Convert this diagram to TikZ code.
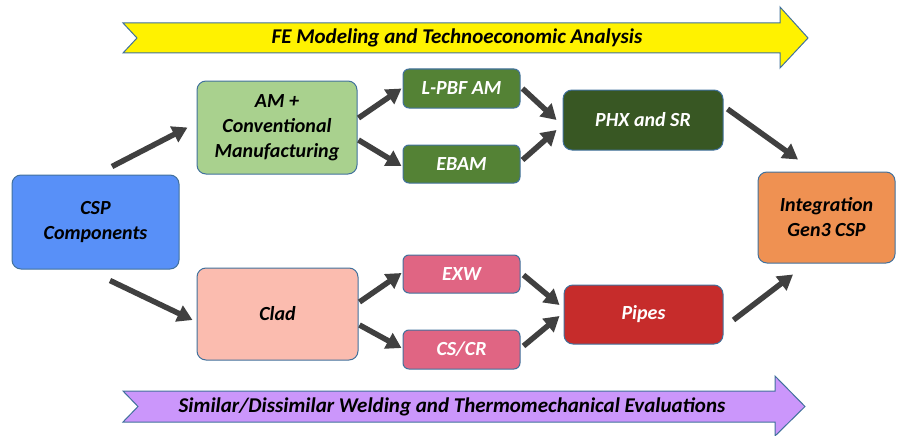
\documentclass[tikz,border=0pt]{standalone}
\usepackage{fontspec}
\setmainfont{Carlito}
\usetikzlibrary{arrows.meta}
\definecolor{edgeblue}{HTML}{41719C}
\definecolor{arrowgray}{HTML}{404040}
\definecolor{cspblue}{HTML}{5890F8}
\definecolor{amgreen}{HTML}{A9D18E}
\definecolor{procgreen}{HTML}{548235}
\definecolor{phxgreen}{HTML}{385723}
\definecolor{cladpink}{HTML}{FBBCAF}
\definecolor{weldpink}{HTML}{E06583}
\definecolor{pipered}{HTML}{C62C2B}
\definecolor{integorange}{HTML}{EF9152}
\definecolor{bannerpurple}{HTML}{CB96FB}
\begin{document}
\begin{tikzpicture}[x=1pt,y=-1pt,
  box/.style={draw=edgeblue, line width=1pt, rounded corners=9pt, align=center,
    font=\fontsize{20}{25}\selectfont\bfseries\itshape, inner sep=0pt},
  darkbox/.style={box, text=white},
  flow/.style={draw=arrowgray, line width=5.5pt, -{Triangle[length=15pt,width=17pt]}},
  banner/.style={draw=edgeblue, line width=1pt}]
\useasboundingbox (0,0) rectangle (907,436);
% banners
\draw[banner, fill=yellow] (123,23) -- (780,23) -- (780,7) -- (808,38) -- (780,68) -- (780,53) -- (123,53) -- (137,38) -- cycle;
\node[font=\fontsize{21}{25}\selectfont\bfseries\itshape] (fe) at (457,38) {FE Modeling and Technoeconomic Analysis};
\draw[banner, fill=bannerpurple] (123,391) -- (775,391) -- (775,376) -- (805,406.5) -- (775,436) -- (775,422) -- (123,422) -- (138,406.5) -- cycle;
\node[font=\fontsize{21}{25}\selectfont\bfseries\itshape] (weld) at (452,407) {Similar/Dissimilar Welding and Thermomechanical Evaluations};
% boxes
\node[box, fill=cspblue, minimum width=167pt, minimum height=94pt] (csp) at (95.5,222) {CSP\\Components};
\node[box, fill=amgreen, minimum width=160pt, minimum height=93pt] (am) at (277,127.5) {AM +\\Conventional\\Manufacturing};
\node[darkbox, fill=procgreen, rounded corners=6pt, minimum width=117pt, minimum height=39pt] (lpbf) at (461.5,88.5) {L-PBF AM};
\node[darkbox, fill=procgreen, rounded corners=6pt, minimum width=117pt, minimum height=38pt] (ebam) at (461.5,164) {EBAM};
\node[darkbox, fill=phxgreen, minimum width=160pt, minimum height=60pt] (phx) at (643,120) {PHX and SR};
\node[box, fill=integorange, minimum width=137pt, minimum height=91pt] (integ) at (826.5,217.5) {Integration\\Gen3 CSP};
\node[box, fill=cladpink, minimum width=161pt, minimum height=92pt] (clad) at (277.5,314) {Clad};
\node[darkbox, fill=weldpink, rounded corners=6pt, minimum width=117pt, minimum height=38pt] (exw) at (461.5,274) {EXW};
\node[darkbox, fill=weldpink, rounded corners=6pt, minimum width=117pt, minimum height=39pt] (cscr) at (461.5,349.5) {CS/CR};
\node[darkbox, fill=pipered, minimum width=159pt, minimum height=59pt] (pipes) at (643.5,314.5) {Pipes};
% arrows
\draw[flow] ([xshift=16.5pt,yshift=8pt]csp.north) -- ([xshift=-9pt]am.west);
\draw[flow] ([xshift=14.5pt,yshift=-11pt]csp.south) -- ([xshift=-4pt,yshift=-6pt]clad.west);
\draw[flow] ([xshift=1pt,yshift=9.5pt]am.east) -- ([xshift=-1pt]lpbf.west);
\draw[flow] ([xshift=1pt,yshift=-12.5pt]am.east) -- ([xshift=-1pt,yshift=-2pt]ebam.west);
\draw[flow] ([xshift=2pt]lpbf.east) -- ([xshift=-6pt]phx.west);
\draw[flow] ([xshift=2pt,yshift=4pt]ebam.east) -- ([xshift=-6pt,yshift=-10pt]phx.west);
\draw[flow] ([xshift=4pt,yshift=11pt]phx.east) -- ([xshift=-28.5pt,yshift=12pt]integ.north);
\draw[flow] ([xshift=1pt,yshift=12pt]clad.east) -- ([xshift=-1pt,yshift=1pt]exw.west);
\draw[flow] ([xshift=1pt,yshift=-11pt]clad.east) -- ([xshift=-1pt,yshift=1.5pt]cscr.west);
\draw[flow] ([xshift=3pt,yshift=-1pt]exw.east) -- ([xshift=-4pt,yshift=9.5pt]pipes.west);
\draw[flow] ([xshift=3pt,yshift=3.5pt]cscr.east) -- ([xshift=-4pt,yshift=-1.5pt]pipes.west);
\draw[flow] ([xshift=10pt,yshift=-5.5pt]pipes.east) -- ([xshift=-33.5pt,yshift=-11pt]integ.south);
\end{tikzpicture}
\end{document}
